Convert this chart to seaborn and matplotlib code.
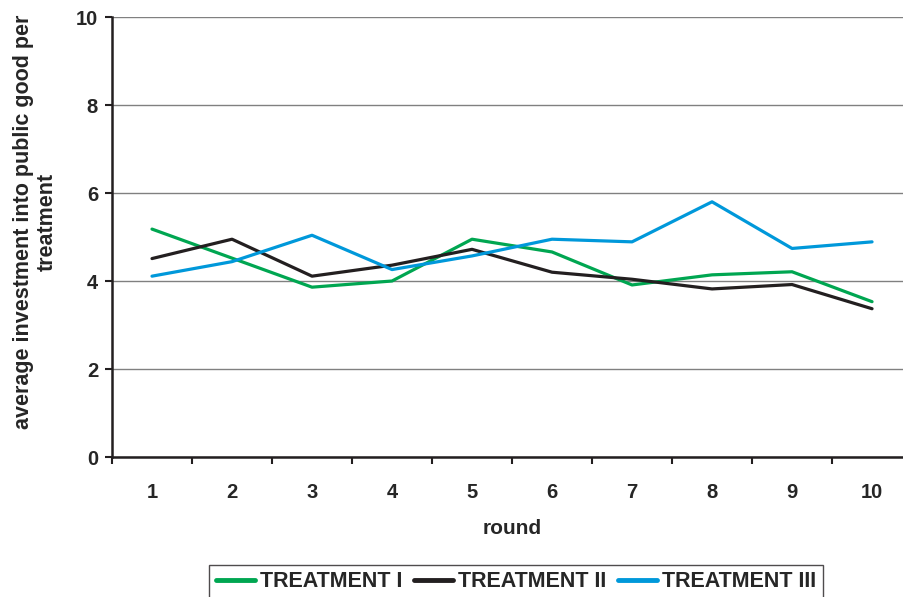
import matplotlib
matplotlib.use("Agg")
import matplotlib.pyplot as plt
import seaborn as sns
import pandas as pd
from matplotlib.ticker import FixedLocator

# Daten
runden = [1, 2, 3, 4, 5, 6, 7, 8, 9, 10]
treatment_1 = [5.18, 4.52, 3.86, 4.0, 4.95, 4.66, 3.91, 4.14, 4.21, 3.53]
treatment_2 = [4.51, 4.95, 4.11, 4.36, 4.72, 4.2, 4.04, 3.82, 3.92, 3.37]
treatment_3 = [4.11, 4.44, 5.04, 4.26, 4.57, 4.95, 4.89, 5.8, 4.74, 4.89]
namen = ["TREATMENT I", "TREATMENT II", "TREATMENT III"]
farben = ["#00A651", "#231F20", "#0098DA"]

df = pd.DataFrame({
    "round": runden * 3,
    "wert": treatment_1 + treatment_2 + treatment_3,
    "treatment": [n for n in namen for _ in runden],
})

sns.set_style("white")
plt.rcParams["font.family"] = ["Liberation Sans", "DejaVu Sans"]
plt.rcParams["font.weight"] = "bold"

fig = plt.figure(figsize=(9.04, 5.97), dpi=100)
ax = fig.add_axes([0.1239, 0.2345, 0.885, 0.737])

sns.lineplot(data=df, x="round", y="wert", hue="treatment", palette=farben,
             linewidth=2.3, ax=ax, legend=False)

ax.set_xlim(0.5, 10.5)
ax.set_ylim(0, 10)
ax.set_yticks([0, 2, 4, 6, 8, 10])
ax.yaxis.grid(True, color="#808080", linewidth=1.0)
ax.set_axisbelow(True)
ax.xaxis.set_major_locator(FixedLocator(runden))
ax.xaxis.set_minor_locator(FixedLocator([r - 0.5 for r in runden]))
ax.tick_params(axis="x", which="major", length=0, pad=19, labelsize=14.5)
ax.tick_params(axis="x", which="minor", length=5, width=1.5, color="#231F20", direction="out")
ax.tick_params(axis="y", length=5, width=1.5, color="#231F20", direction="out", labelsize=14.5, pad=5)
ax.tick_params(bottom=True, left=True, which="both")
for label in ax.get_xticklabels() + ax.get_yticklabels():
    label.set_fontweight("bold")

for s in ["top", "right"]:
    ax.spines[s].set_visible(False)
for s in ["left", "bottom"]:
    ax.spines[s].set_color("#231F20")
    ax.spines[s].set_linewidth(1.8)

ax.set_xlabel("round", fontsize=15, fontweight="bold", labelpad=12)
ax.set_ylabel("average investment into public good per\ntreatment",
              fontsize=15.5, fontweight="bold", labelpad=13, multialignment="center")
ax.yaxis.label.set_y(0.535)

handles = [plt.Line2D([], [], color=c, linewidth=3.5) for c in farben]
leg = fig.legend(handles, namen, loc="upper center", bbox_to_anchor=(0.571, 0.054),
                 ncol=3, frameon=True, fancybox=False, handlelength=1.8,
                 handletextpad=0.25, columnspacing=0.55, borderpad=0.3,
                 borderaxespad=0, prop={"weight": "bold", "size": 15.5})
leg.get_frame().set_edgecolor("#231F20")
leg.get_frame().set_linewidth(1.0)

fig.savefig("out.png", dpi=100)
